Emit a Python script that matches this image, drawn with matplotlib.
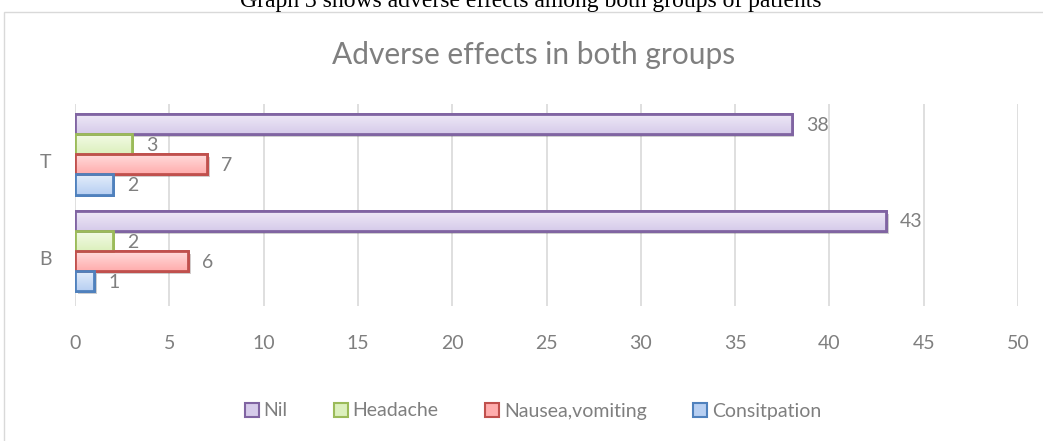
import matplotlib
matplotlib.use("Agg")
import matplotlib.pyplot as plt
import matplotlib.patheffects as pe
from matplotlib.patches import Patch, Rectangle
import numpy as np

categories = ["B", "T"]
series_names = ["Nil", "Headache", "Nausea,vomiting", "Consitpation"]
nil = [43, 38]
headache = [2, 3]
nausea = [6, 7]
constipation = [1, 2]
x_ticks = [0, 5, 10, 15, 20, 25, 30, 35, 40, 45, 50]

face_top = ["#efeaf7", "#f4fbe8", "#ffdede", "#e4eefb"]
face_bot = ["#d6cbea", "#dcf0bd", "#ffadad", "#b7cff2"]
edges = ["#8064a2", "#9bbb59", "#c0504d", "#4f81bd"]
FONT = "Lato"
GREY = "#7f7f7f"

fig = plt.figure(figsize=(10.43, 4.41), dpi=100)
fig.patches.append(Rectangle((4/1043, -0.1), 1.2, 1 - 12/441 + 0.1, transform=fig.transFigure,
                             fill=False, edgecolor="#d9d9d9", linewidth=1.0))
fig.text(531/1043, 1 - 1/441, "Graph 3 shows adverse effects among both groups of patients",
         ha="center", va="center", family="Liberation Serif", fontsize=17, color="black")
fig.text(534/1043, 1 - 55/441, "Adverse effects in both groups", ha="center", va="center",
         family=FONT, fontsize=21.5, color=GREY)

ax = fig.add_axes([75/1043, 1 - 306/441, (1018 - 75)/1043, (306 - 104)/441])

values = [nil, headache, nausea, constipation]
h = 0.208
offsets = [1.5 * h, 0.5 * h, -0.5 * h, -1.5 * h]
y = np.arange(len(categories))
for i, vals in enumerate(values):
    bars = ax.barh(y + offsets[i], vals, height=h, color=face_bot[i], edgecolor=edges[i],
                   linewidth=2.0, zorder=3,
                   path_effects=[pe.SimplePatchShadow(offset=(2, -2), alpha=0.25), pe.Normal()])
    for b, v in zip(bars, vals):
        x0, y0, w, hh = b.get_x(), b.get_y(), b.get_width(), b.get_height()
        grad = np.linspace(0, 1, 50).reshape(-1, 1)
        c1 = np.array(matplotlib.colors.to_rgb(face_top[i]))
        c2 = np.array(matplotlib.colors.to_rgb(face_bot[i]))
        img = c2[None, None, :] * (1 - grad[..., None]) + c1[None, None, :] * grad[..., None]
        im = ax.imshow(img, extent=[x0, x0 + w, y0, y0 + hh], origin="lower", aspect="auto",
                       zorder=3.5, interpolation="bilinear")
        im.set_clip_path(b)
        ax.add_patch(Rectangle((x0, y0), w, hh, fill=False, edgecolor=edges[i], linewidth=2.0,
                               zorder=4))
        ax.text(v + 0.75, y0 + hh / 2 - 0.01, str(v), va="center", ha="left", fontsize=14,
                color=GREY, family=FONT, zorder=5)
ax.set_xlim(0, 50)
ax.set_ylim(-0.567, 1.52)

ax.set_xticks(x_ticks)
ax.set_xticklabels([str(t) for t in x_ticks])
ax.set_yticks(y)
ax.set_yticklabels(categories)
ax.tick_params(axis="x", length=0, pad=21, labelsize=14, labelcolor=GREY)
ax.tick_params(axis="y", length=0, pad=17, labelsize=14, labelcolor=GREY)
for lab in ax.get_xticklabels() + ax.get_yticklabels():
    lab.set_family(FONT)
for lab in ax.get_yticklabels():
    lab.set_va("top")
ax.grid(axis="x", color="#d9d9d9", linewidth=1.2, zorder=0)
for s in ax.spines.values():
    s.set_visible(False)

handles = [Patch(facecolor=face_bot[i], edgecolor=edges[i], linewidth=1.5, label=series_names[i])
           for i in range(4)]
fig.legend(handles=handles, loc="center", bbox_to_anchor=(533/1043, 1 - 411/441), ncol=4,
           frameon=False, prop={"family": FONT, "size": 14}, labelcolor=GREY,
           handlelength=0.7, handleheight=0.7, handletextpad=0.25, columnspacing=2.4)

fig.savefig("out.png", dpi=100)
